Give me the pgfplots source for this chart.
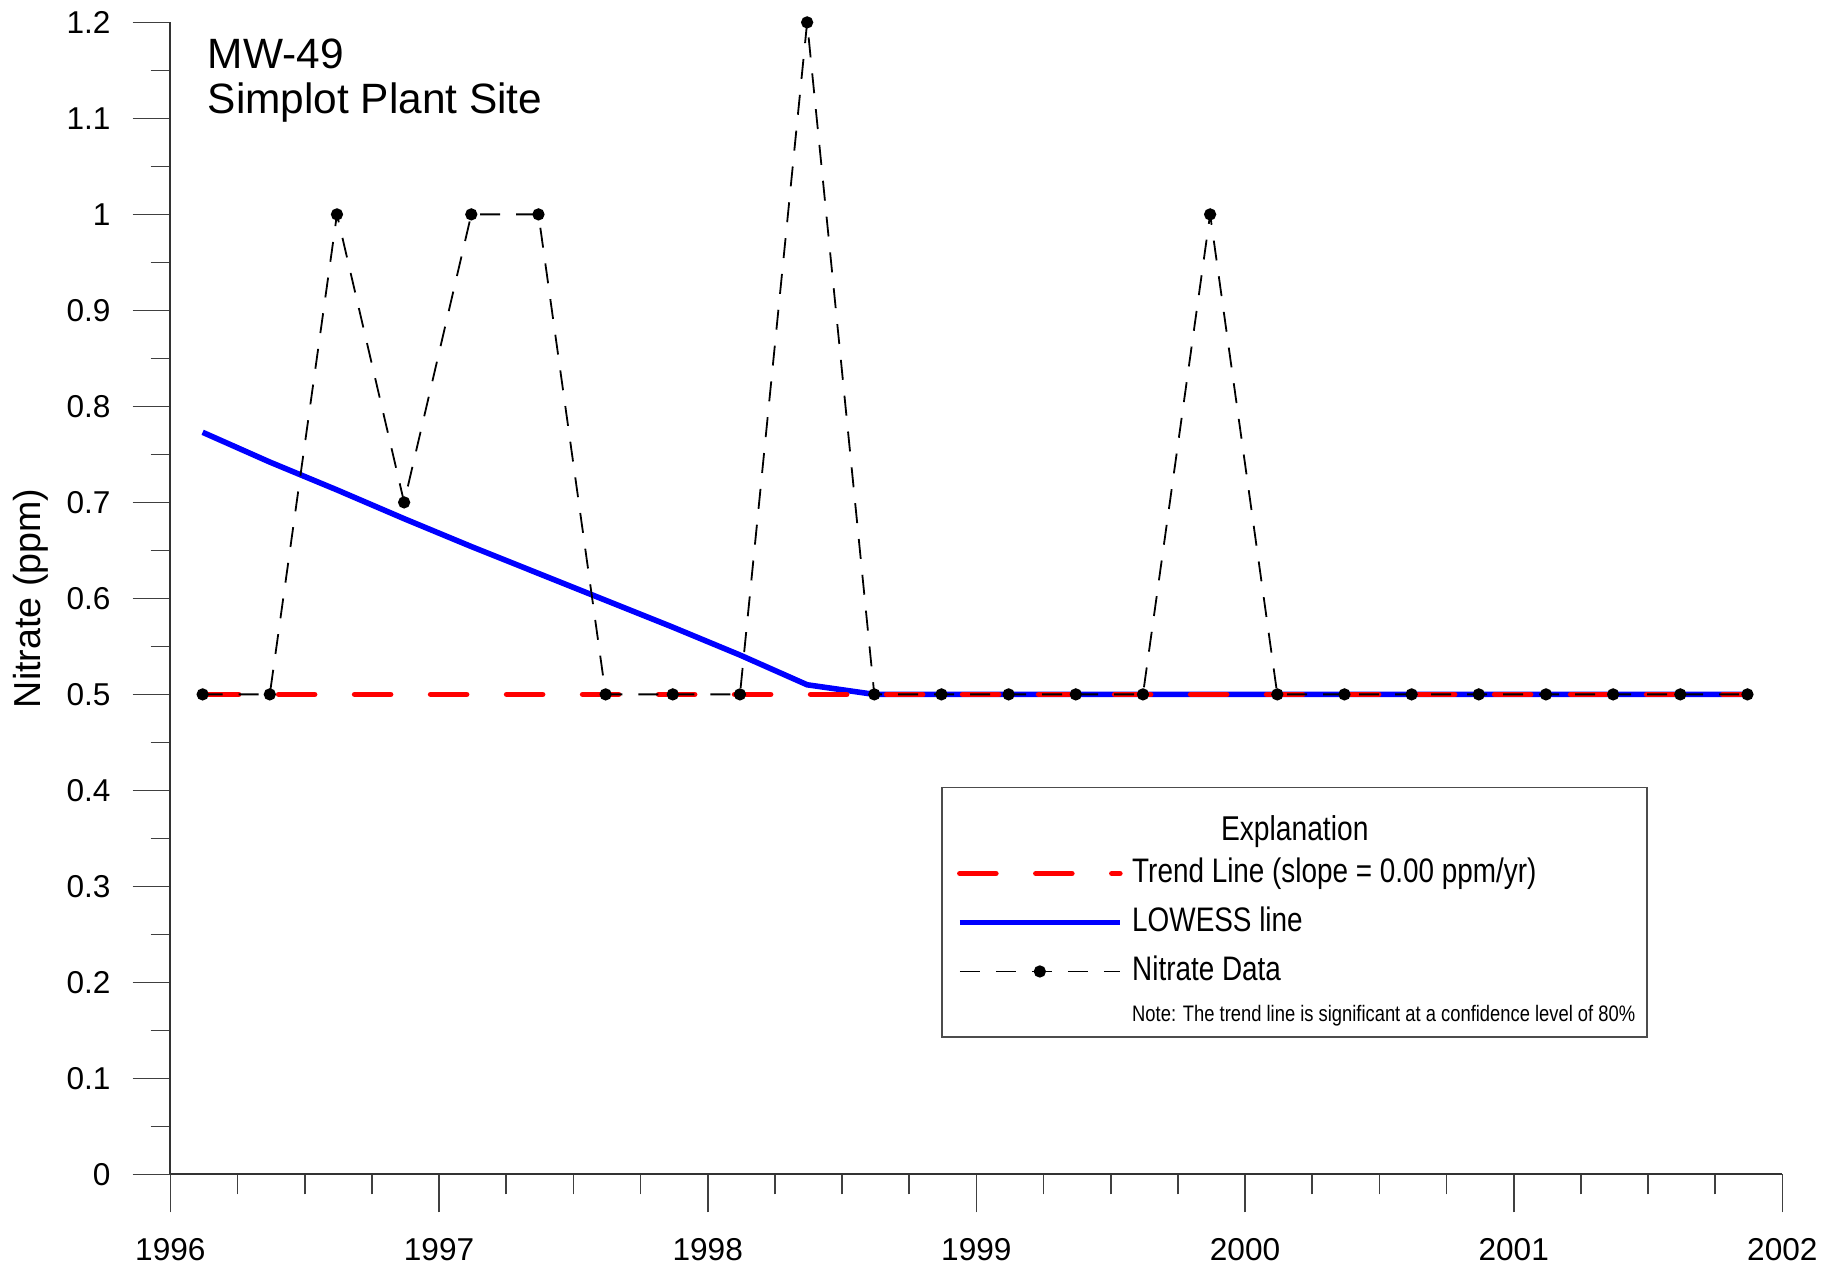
\documentclass[border=0pt]{standalone}
\usepackage{fontspec}
\setmainfont{Liberation Sans}
\newfontfamily\narrow[FakeStretch=0.82]{Liberation Sans}
\usepackage{pgfplots}
\usepackage{pgfplotstable}
\pgfplotsset{compat=1.18}

% quarterly nitrate samples (ppm)
\pgfplotstableread{
x y
1996.12 0.5
1996.37 0.5
1996.62 1.0
1996.87 0.7
1997.12 1.0
1997.37 1.0
1997.62 0.5
1997.87 0.5
1998.12 0.5
1998.37 1.2
1998.62 0.5
1998.87 0.5
1999.12 0.5
1999.37 0.5
1999.62 0.5
1999.87 1.0
2000.12 0.5
2000.37 0.5
2000.62 0.5
2000.87 0.5
2001.12 0.5
2001.37 0.5
2001.62 0.5
2001.87 0.5
}\nitrate

% LOWESS smooth
\pgfplotstableread{
x y
1996.12 0.773
1996.37 0.742
1996.62 0.713
1996.87 0.683
1997.12 0.654
1997.37 0.626
1997.62 0.598
1997.87 0.570
1998.12 0.541
1998.37 0.510
1998.62 0.500
1998.87 0.500
1999.12 0.500
1999.37 0.500
1999.62 0.500
1999.87 0.500
2000.12 0.500
2000.37 0.500
2000.62 0.500
2000.87 0.500
2001.12 0.500
2001.37 0.500
2001.62 0.500
2001.87 0.500
}\lowess

\begin{document}
\begin{tikzpicture}
\begin{axis}[
  scale only axis,
  width=403pt, height=288pt,
  xmin=1996, xmax=2002,
  ymin=0, ymax=1.2,
  axis lines*=left,
  axis line style={black!80, line width=0.45pt},
  xtick={1996,1997,1998,1999,2000,2001,2002},
  ytick={0,0.1,0.2,0.3,0.4,0.5,0.6,0.7,0.8,0.9,1,1.1,1.2},
  minor x tick num=3,
  minor y tick num=1,
  tick align=outside,
  major tick length=9.5pt,
  minor tick length=5pt,
  tick style={black!75, line width=0.4pt},
  /pgf/number format/assume math mode=true,
  ticklabel style={font=\fontsize{7.9}{9}\selectfont},
  xticklabel style={/pgf/number format/1000 sep={}, yshift=-3pt},
  yticklabel style={/pgf/number format/fixed, xshift=-2pt},
  ylabel={Nitrate (ppm)},
  every axis y label/.style={at={(rel axis cs:0,0.5)}, xshift=-35pt, rotate=90, anchor=center, font=\fontsize{9.4}{11}\selectfont},
  clip=false,
  legend style={at={(axis cs:1998.925,0.332)}, anchor=north west, draw=none, fill=none,
    font=\narrow\fontsize{8.5}{10}\selectfont, inner sep=0pt, row sep=3.75pt,
    nodes={inner xsep=2.4pt, inner ysep=0pt, text height=6.5pt, text depth=2pt}},
  legend cell align=left,
  legend image code/.code={\draw[mark repeat=2, mark phase=2, #1] plot coordinates {(0pt,0pt) (20pt,0pt) (40pt,0pt)};},
]
% legend box, title and note
\draw[black!70, line width=0.45pt] (axis cs:1998.873,0.143) rectangle (axis cs:2001.496,0.403);
\node[font=\narrow\fontsize{8.6}{10}\selectfont] at (axis cs:2000.185,0.357) {Explanation};
\node[font=\narrow\fontsize{5.6}{7}\selectfont, anchor=west, inner sep=0pt] at (axis cs:1999.577,0.165) {Note: The trend line is significant at a confidence level of 80\%};

% title
\node[anchor=base west, font=\fontsize{10.6}{12}\selectfont] at ([xshift=5.8pt, yshift=-11.5pt]rel axis cs:0,1) {MW-49};
\node[anchor=base west, font=\fontsize{10.6}{12}\selectfont] at ([xshift=5.8pt, yshift=-22.7pt]rel axis cs:0,1) {Simplot Plant Site};

% legend entries
\addlegendimage{red, line width=1.4pt, line cap=round, dash pattern=on 9pt off 10pt}
\addlegendentry{Trend Line (slope = 0.00 ppm/yr)}
\addlegendimage{blue, line width=1.4pt}
\addlegendentry{LOWESS line}
\addlegendimage{black, line width=0.45pt, dash pattern=on 5pt off 4pt, mark=*, mark size=1.3pt, mark options={solid}}
\addlegendentry{Nitrate Data}

\addplot[forget plot, blue, line width=1.4pt] table {\lowess};
\addplot[forget plot, red, line width=1.4pt, line cap=round, dash pattern=on 9pt off 10pt]
  coordinates {(1996.12,0.5) (2001.87,0.5)};
\addplot[forget plot, black, line width=0.45pt, dash pattern=on 5pt off 4pt, mark=*, mark size=1.3pt, mark options={solid}]
  table {\nitrate};
\end{axis}
\pgfresetboundingbox
\path (-42.6pt,-24pt) rectangle (418.15pt,293.6pt);
\end{tikzpicture}
\end{document}
